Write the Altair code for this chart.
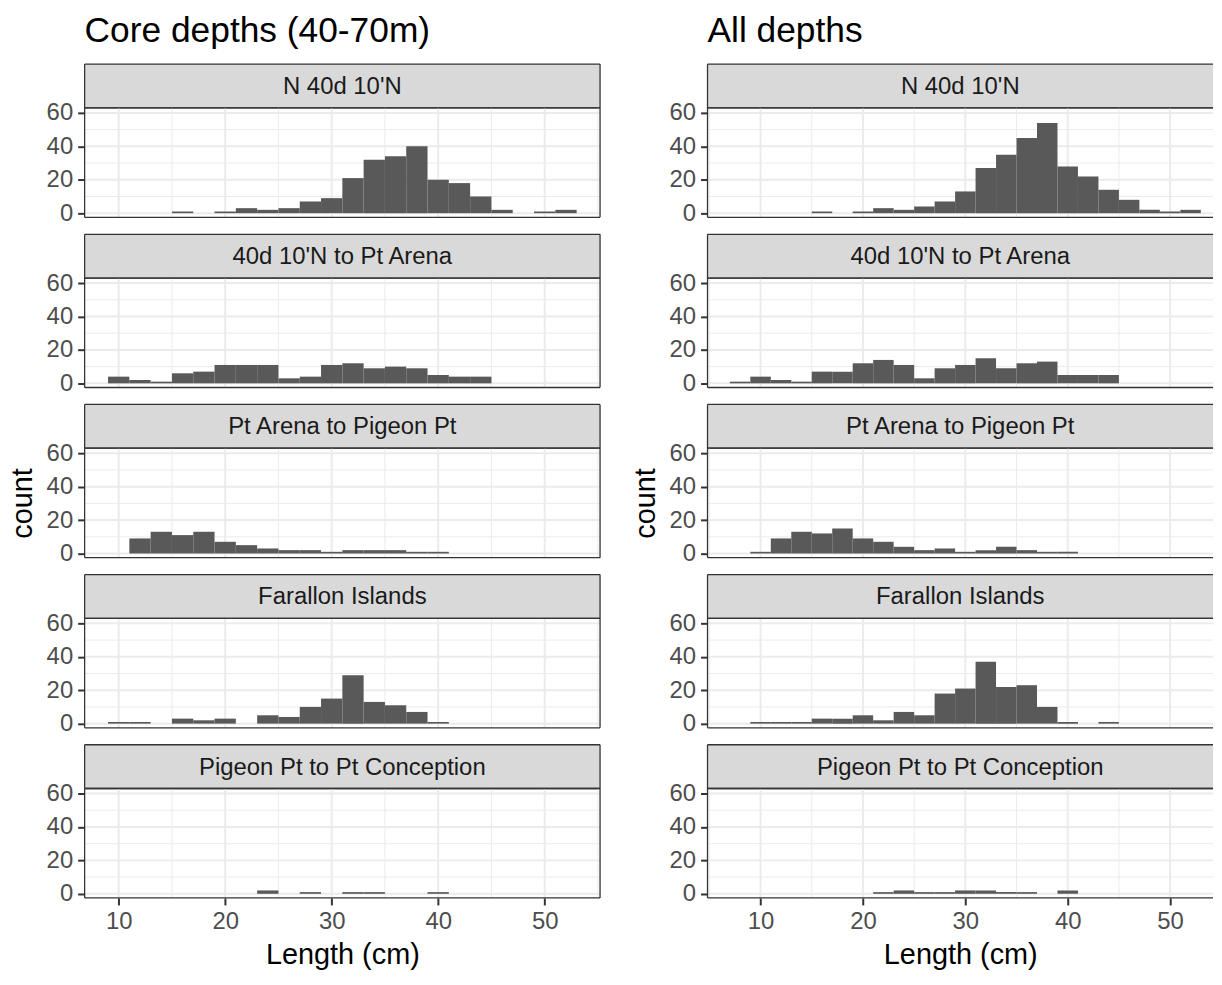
import altair as alt
import pandas as pd

FONT = "Liberation Sans"

# ---------------- data ----------------
regions = ["N 40d 10'N", "40d 10'N to Pt Arena", "Pt Arena to Pigeon Pt",
           "Farallon Islands", "Pigeon Pt to Pt Conception"]

BIN_WIDTH = 2

# left column: core depths, bins start at 9 cm
core_bin_start = [9, 11, 13, 15, 17, 19, 21, 23, 25, 27, 29, 31, 33, 35, 37, 39, 41, 43, 45, 47, 49, 51]
core_n40       = [0, 0, 0, 1, 0, 1, 3, 2, 3, 7, 9, 21, 32, 34, 40, 20, 18, 10, 2, 0, 1, 2]
core_arena     = [4, 2, 1, 6, 7, 11, 11, 11, 3, 4, 11, 12, 9, 10, 9, 5, 4, 4, 0, 0, 0, 0]
core_pigeon    = [0, 9, 13, 11, 13, 7, 5, 3, 2, 2, 1, 2, 2, 2, 1, 1, 0, 0, 0, 0, 0, 0]
core_farallon  = [1, 1, 0, 3, 2, 3, 0, 5, 4, 10, 15, 29, 13, 11, 7, 1, 0, 0, 0, 0, 0, 0]
core_concep    = [0, 0, 0, 0, 0, 0, 0, 2, 0, 1, 0, 1, 1, 0, 0, 1, 0, 0, 0, 0, 0, 0]

# right column: all depths, bins start at 7 cm
all_bin_start = [7, 9, 11, 13, 15, 17, 19, 21, 23, 25, 27, 29, 31, 33, 35, 37, 39, 41, 43, 45, 47, 49, 51]
all_n40       = [0, 0, 0, 0, 1, 0, 1, 3, 2, 4, 7, 13, 27, 35, 45, 54, 28, 22, 14, 8, 2, 1, 2]
all_arena     = [1, 4, 2, 1, 7, 7, 12, 14, 11, 3, 9, 11, 15, 9, 12, 13, 5, 5, 5, 0, 0, 0, 0]
all_pigeon    = [0, 1, 9, 13, 12, 15, 9, 7, 4, 2, 3, 1, 2, 4, 2, 1, 1, 0, 0, 0, 0, 0, 0]
all_farallon  = [0, 1, 1, 1, 3, 3, 5, 2, 7, 5, 18, 21, 37, 22, 23, 10, 1, 0, 1, 0, 0, 0, 0]
all_concep    = [0, 0, 0, 0, 0, 0, 0, 1, 2, 1, 1, 2, 2, 1, 1, 0, 2, 0, 0, 0, 0, 0, 0]

x_major = [10, 20, 30, 40, 50]
x_minor = [5, 15, 25, 35, 45, 55]
y_major = [0, 20, 40, 60]
y_minor = [10, 30, 50]

col_titles = ["Core depths (40-70m)", "All depths"]

# ---------------- layout constants ----------------
W_LEFT = 518
W_RIGHT = 508
PH = 110          # panel height
SH = 44           # strip height
GAP = 17          # gap between panel and next strip
TOP = 60          # space above first strip (holds the column title)
XDOM_LEFT = [6.8, 55.2]
XDOM_RIGHT = [4.82, 54.19]
YDOM = [-2.5, 63]
BORDER = "#333333"
BW = 1.3
GRID = "#ebebeb"


def border_rules(W, H, y0, right):
    one = pd.DataFrame({"k": [0]})
    b = alt.Chart(one)
    rules = [
        b.mark_rule(color=BORDER, strokeWidth=BW).encode(
            x=alt.value(0), x2=alt.value(W), y=alt.value(y0)),
        b.mark_rule(color=BORDER, strokeWidth=BW).encode(
            x=alt.value(0), x2=alt.value(W), y=alt.value(H)),
        b.mark_rule(color=BORDER, strokeWidth=BW).encode(
            x=alt.value(0), y=alt.value(y0), y2=alt.value(H)),
    ]
    if right:
        rules.append(b.mark_rule(color=BORDER, strokeWidth=BW).encode(
            x=alt.value(W), y=alt.value(y0), y2=alt.value(H)))
    return rules


def strip(label, W, right_border, gap, title=None):
    d = pd.DataFrame({"label": [label]})
    b = alt.Chart(d)
    rect = b.mark_rect(color="#d9d9d9").encode(
        x=alt.value(0), x2=alt.value(W), y=alt.value(gap), y2=alt.value(gap + SH))
    txt = b.mark_text(fontSize=24, color="#1a1a1a", baseline="middle", align="center",
                      font=FONT).encode(
        text="label:N", x=alt.value(W / 2), y=alt.value(gap + SH / 2 + 1))
    layers = [rect, txt]
    if title is not None:
        td = pd.DataFrame({"t": [title]})
        layers.append(alt.Chart(td).mark_text(fontSize=35.5, color="black", baseline="top",
                                              align="left", font=FONT).encode(
            text="t:N", x=alt.value(0), y=alt.value(10)))
    layers += border_rules(W, gap + SH, gap, right_border)
    return alt.layer(*layers).properties(width=W, height=gap + SH)


def panel(starts, counts, W, xdom, show_x, show_ytitle, right_border):
    df = pd.DataFrame({
        "start": starts,
        "end": [s + BIN_WIDTH for s in starts],
        "count": counts,
        "zero": [0] * len(starts),
    })
    df = df[df["count"] > 0]
    xs = alt.Scale(domain=xdom, nice=False, zero=False)
    ys = alt.Scale(domain=YDOM, nice=False, zero=False)
    if show_x:
        xaxis = alt.Axis(values=x_major, grid=False, domain=False, ticks=True, tickSize=7,
                         tickWidth=2, tickColor=BORDER, labelFontSize=24, labelColor="#4d4d4d",
                         labelPadding=5, labelFont=FONT, title="Length (cm)", titleFontSize=29,
                         titleColor="black", titleFontWeight="normal", titleFont=FONT,
                         titlePadding=7)
    else:
        xaxis = None
    yaxis = alt.Axis(values=y_major, grid=False, domain=False, ticks=True, tickSize=7,
                     tickWidth=2, tickColor=BORDER, labelFontSize=24, labelColor="#4d4d4d",
                     labelPadding=5, labelFont=FONT,
                     title="count" if show_ytitle else None, titleFontSize=29,
                     titleColor="black", titleFontWeight="normal", titleFont=FONT,
                     titlePadding=9)

    xmin_in = [v for v in x_minor if xdom[0] <= v <= xdom[1]]
    xmaj_in = [v for v in x_major if xdom[0] <= v <= xdom[1]]
    gx_min = alt.Chart(pd.DataFrame({"v": xmin_in})).mark_rule(color=GRID, strokeWidth=1).encode(
        x=alt.X("v:Q", scale=xs, axis=xaxis))
    gx_maj = alt.Chart(pd.DataFrame({"v": xmaj_in})).mark_rule(color=GRID, strokeWidth=2).encode(
        x=alt.X("v:Q", scale=xs, axis=xaxis))
    gy_min = alt.Chart(pd.DataFrame({"v": y_minor})).mark_rule(color=GRID, strokeWidth=1).encode(
        y=alt.Y("v:Q", scale=ys, axis=yaxis))
    gy_maj = alt.Chart(pd.DataFrame({"v": y_major})).mark_rule(color=GRID, strokeWidth=2).encode(
        y=alt.Y("v:Q", scale=ys, axis=yaxis))
    bars = alt.Chart(df).mark_rect(color="#595959").encode(
        x=alt.X("start:Q", scale=xs, axis=xaxis),
        x2="end:Q",
        y=alt.Y("count:Q", scale=ys, axis=yaxis),
        y2="zero:Q",
    )
    layers = [gx_min, gx_maj, gy_min, gy_maj, bars] + border_rules(W, PH, 0, right_border)
    return alt.layer(*layers).properties(width=W, height=PH)


def column(series, starts, W, xdom, right_border, title):
    charts = []
    for i, (lab, cnt) in enumerate(zip(regions, series)):
        if i == 0:
            charts.append(strip(lab, W, right_border, TOP, title=title))
        else:
            charts.append(strip(lab, W, right_border, GAP))
        charts.append(panel(starts, cnt, W, xdom, show_x=(i == len(regions) - 1),
                            show_ytitle=(i == 2), right_border=right_border))
    return alt.vconcat(*charts, spacing=0, bounds="flush")


left = column([core_n40, core_arena, core_pigeon, core_farallon, core_concep],
              core_bin_start, W_LEFT, XDOM_LEFT, True, col_titles[0])
right = column([all_n40, all_arena, all_pigeon, all_farallon, all_concep],
               all_bin_start, W_RIGHT, XDOM_RIGHT, False, col_titles[1])

chart = alt.hconcat(left, right, spacing=30).properties(
    padding={"left": 0, "top": -6, "right": 0, "bottom": 0}
).configure(
    font=FONT,
    background="white",
    view=alt.ViewConfig(stroke="transparent", strokeWidth=0),
)

chart.save("out.html", embed_options={"renderer": "svg", "actions": False})
